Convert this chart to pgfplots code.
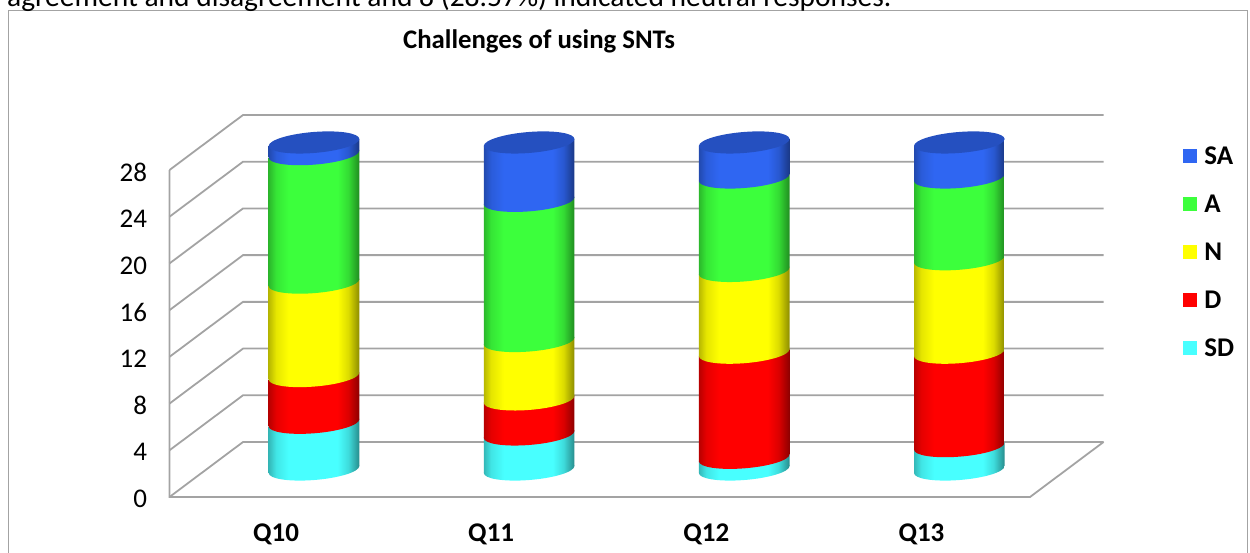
\documentclass[border=0pt]{standalone}
\usepackage{fontspec}
\setmainfont{Carlito}
\usepackage{pgfplots}
\pgfplotsset{compat=1.18}
\definecolor{cSA}{HTML}{2F66F2}
\definecolor{cA}{HTML}{3CFF3C}
\definecolor{cN}{HTML}{FFFF00}
\definecolor{cD}{HTML}{FF0000}
\definecolor{cSD}{HTML}{48FFFF}
\definecolor{cCap}{HTML}{2550C0}
\definecolor{wall}{HTML}{A3A3A3}
% shading: 25bp..75bp is the width of the filled path
\newcommand\mkshade[2]{\pgfdeclarehorizontalshading{#1}{100bp}{%
  color(0bp)=(#2!72!black); color(25bp)=(#2!72!black); color(29bp)=(#2!90!black);
  color(36bp)=(#2); color(63bp)=(#2); color(69bp)=(#2!86!black); color(75bp)=(#2!55!black); color(100bp)=(#2!55!black)}}
\mkshade{shSA}{cSA}\mkshade{shA}{cA}\mkshade{shN}{cN}\mkshade{shD}{cD}\mkshade{shSD}{cSD}
\newcommand\disc[2]{% level, style
  \path[#2] (axis cs:0,#1) .. controls (axis cs:0,#1-0.5) and (axis cs:20.3,#1-0.9) .. (axis cs:45.3,#1-0.9)
   .. controls (axis cs:70.3,#1-0.9) and (axis cs:90.6,#1-0.5) .. (axis cs:90.6,#1)
   .. controls (axis cs:90.6,#1+0.5) and (axis cs:70.3,#1+0.9) .. (axis cs:45.3,#1+0.9)
   .. controls (axis cs:20.3,#1+0.9) and (axis cs:0,#1+0.5) .. (axis cs:0,#1) -- cycle;}
% left edge (px from left), then SD D N A SA
\newcommand\cyl[6]{%
 \pgfmathsetmacro\la{#2}\pgfmathsetmacro\lb{#2+#3}\pgfmathsetmacro\lc{#2+#3+#4}\pgfmathsetmacro\ld{#2+#3+#4+#5}\pgfmathsetmacro\le{#2+#3+#4+#5+#6}%
 \begin{axis}[at={(#1pt,79pt)},anchor=origin,x={(1pt,0.077pt)},y={(0pt,11.68pt)},
   xmin=0,xmax=90.6,ymin=0,ymax=30,hide axis,clip=false,stack plots=y,reverse stacked plots=false]
  \addplot[shade,shading=shSD,draw=none,mark=none] coordinates {(0,#2)(90.6,#2)} -- (axis cs:90.6,0) -- (axis cs:0,0) -- cycle;
  \addplot[shade,shading=shD,draw=none,mark=none] coordinates {(0,#3)(90.6,#3)} \closedcycle;
  \addplot[shade,shading=shN,draw=none,mark=none] coordinates {(0,#4)(90.6,#4)} \closedcycle;
  \addplot[shade,shading=shA,draw=none,mark=none] coordinates {(0,#5)(90.6,#5)} \closedcycle;
  \addplot[shade,shading=shSA,draw=none,mark=none] coordinates {(0,#6)(90.6,#6)} \closedcycle;
  \disc{0}{shade,shading=shSD}
  \disc{\la}{shade,shading=shD}
  \disc{\lb}{shade,shading=shN}
  \disc{\lc}{shade,shading=shA}
  \disc{\ld}{shade,shading=shSA}
  \disc{\le}{fill=cCap}
 \end{axis}}
\begin{document}
\begin{tikzpicture}[x=1pt,y=1pt]
\useasboundingbox (0,0) rectangle (1250,552);
\clip (0,0) rectangle (1250,552);
\draw[wall,line width=1pt] (8,-5) -- (8,541) -- (1247,541) -- (1247,-5);
\node[anchor=base west,font=\fontsize{29.5}{30}\selectfont,inner sep=0pt] at (7,545) {agreement and disagreement and 8 (28.57\%) indicated neutral responses.};
\node[font=\fontsize{26.8}{27}\selectfont\bfseries,inner sep=0pt] at (539,510.5) {Challenges of using SNTs};
\begin{axis}[at={(169.5pt,55pt)},anchor=south west,scale only axis,width=860.5pt,height=327pt,
  xmin=0,xmax=4,ymin=0,ymax=28,clip=false,
  axis line style={draw=none},tick style={draw=none},
  xtick={0.5,1.5,2.5,3.5},xticklabels={Q10,Q11,Q12,Q13},
  ytick={0,4,8,12,16,20,24,28},
  /pgf/number format/assume math mode=true,
  x tick label style={font=\fontsize{27}{27}\selectfont\bfseries,yshift=-23pt,xshift=-1pt},
  y tick label style={font=\fontsize{27}{27}\selectfont,xshift=-19pt,yshift=-2pt},
  legend style={at={(1.178,1.073)},anchor=north west,draw=none,fill=none,row sep=29pt,
     font=\fontsize{27}{27}\selectfont\bfseries,inner sep=0pt,
     nodes={inner sep=0pt,anchor=west}},
  legend cell align=left,
  legend image code/.code={\fill[#1,draw=none] (0pt,-7pt) rectangle (14pt,7pt);\path[draw=none,fill=none] (0pt,0pt) -- (21pt,0pt);},
  every axis plot/.append style={forget plot},
]
\pgfplotsinvokeforeach{0,4,8,12,16,20,24,28}{
  \addplot[wall,line width=1.8pt,mark=none] coordinates {(0,#1)(0.3417,#1+4.709)(4.3417,#1+4.709)};
}
\addplot[wall,line width=1.8pt,mark=none] coordinates {(0,28)(0,0)(4,0)(4.3417,4.709)};
\addlegendimage{fill=cSA}\addlegendentry{SA}
\addlegendimage{fill=cA}\addlegendentry{A}
\addlegendimage{fill=cN}\addlegendentry{N}
\addlegendimage{fill=cD}\addlegendentry{D}
\addlegendimage{fill=cSD}\addlegendentry{SD}
\end{axis}
\cyl{268.7}{4}{4}{8}{11}{1}
\cyl{483.8}{3}{3}{5}{12}{5}
\cyl{698.9}{1}{9}{7}{8}{3}
\cyl{914.0}{2}{8}{8}{7}{3}
\end{tikzpicture}
\end{document}
